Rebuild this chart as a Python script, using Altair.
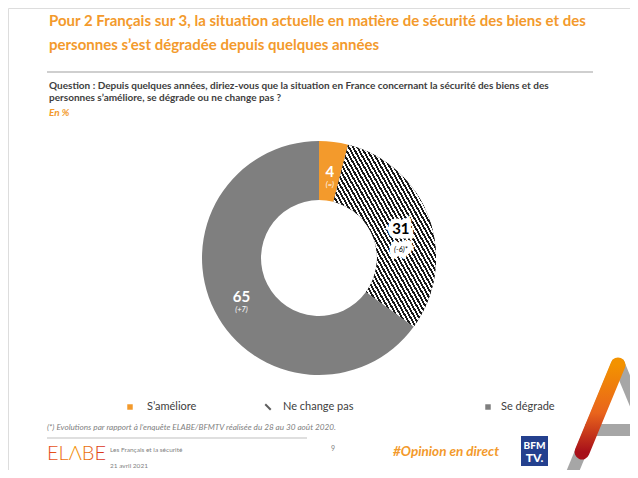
import altair as alt
import pandas as pd

# ---- data ----
cats = ["S’améliore", "Ne change pas", "Se dégrade"]
values = [4, 31, 65]
labels = ["4", "31", "65"]
changes = ["(=)", "(-6)*", "(+7)"]
orders = [0, 1, 2]

title_lines = [
    "Pour 2 Français sur 3, la situation actuelle en matière de sécurité des biens et des",
    "personnes s’est dégradée depuis quelques années",
]
question_lines = [
    "Question : Depuis quelques années, diriez-vous que la situation en France concernant la sécurité des biens et des",
    "personnes s’améliore, se dégrade ou ne change pas ?",
]
unit_text = "En %"
footnote = "(*) Evolutions par rapport à l’enquête ELABE/BFMTV réalisée du 28 au 30 août 2020."
footer_left = ["Les Français et la sécurité", "21 avril 2021"]
page_no = "9"
hashtag = "#Opinion en direct"

ORANGE = "#F39A2C"
GRAY = "#7F7F7F"
DARK = "#404040"
FONT = "Lato"

df = pd.DataFrame({"cat": cats, "value": values, "order": orders,
                   "label": labels, "change": changes})
one = pd.DataFrame({"k": [0]})

color_scale = alt.Scale(domain=cats, range=[ORANGE, "#1a1a1a", GRAY])

# hatch pattern as a striped gradient
N = 48
stops = []
for i in range(N):
    a, b, c = i / N, (i + 0.5) / N, (i + 1) / N
    stops += [{"offset": a, "color": "#1a1a1a"}, {"offset": b, "color": "#1a1a1a"},
              {"offset": b, "color": "#ffffff"}, {"offset": c, "color": "#ffffff"}]
hatch = {"gradient": "linear", "x1": 0, "y1": 1, "x2": 1, "y2": 0, "stops": stops}

CX, CY = 311, 250
IS_NC = "datum.cat == 'Ne change pas'"

base = alt.Chart(df).encode(
    theta=alt.Theta("value:Q", stack=True),
    order=alt.Order("order:Q"),
    x=alt.value(CX), y=alt.value(CY),
)

arcs = base.mark_arc(innerRadius=58, outerRadius=117).encode(
    color=alt.Color("cat:N", scale=color_scale, legend=None)
)
hatch_layer = base.mark_arc(innerRadius=58, outerRadius=117, fill=hatch).encode(
    opacity=alt.condition(IS_NC, alt.value(1), alt.value(0))
)

halo_big = base.mark_text(radius=87, fontSize=15, fontWeight="bold", font=FONT,
                          fill="white", stroke="white", strokeWidth=9,
                          strokeJoin="miter").encode(
    text="label:N", opacity=alt.condition(IS_NC, alt.value(1), alt.value(0)))
halo_sub = base.mark_text(radius=87, dy=21, fontSize=8, fontStyle="italic", font=FONT,
                          fill="white", stroke="white", strokeWidth=9,
                          strokeJoin="miter").encode(
    text="change:N", opacity=alt.condition(IS_NC, alt.value(1), alt.value(0)))

big = base.mark_text(radius=87, fontSize=15, fontWeight="bold", font=FONT).encode(
    text="label:N",
    fill=alt.condition(IS_NC, alt.value("black"), alt.value("white")),
)
sub_white = base.mark_text(radius=87, dy=13, fontSize=7.5, fontStyle="italic",
                           font=FONT, fill="white").encode(
    text="change:N", opacity=alt.condition(IS_NC, alt.value(0), alt.value(1)))
sub_black = base.mark_text(radius=87, dy=21, fontSize=7.5, fontStyle="italic",
                           font=FONT, fill="black").encode(
    text="change:N", opacity=alt.condition(IS_NC, alt.value(1), alt.value(0)))


def txt(s, x, y, size, color, weight="normal", style="normal", align="left", font=FONT):
    return alt.Chart(one).mark_text(
        align=align, baseline="middle", fontSize=size, fontWeight=weight,
        fontStyle=style, font=font, color=color
    ).encode(text=alt.value(s), x=alt.value(x), y=alt.value(y))


def rule(x, y, x2, y2, color, width, cap="butt"):
    return alt.Chart(one).mark_rule(stroke=color, strokeWidth=width, strokeCap=cap).encode(
        x=alt.value(x), y=alt.value(y), x2=alt.value(x2), y2=alt.value(y2))


# legend
leg_x = [122, 260, 480]
leg_dx = [17, 15, 13]
leg_layers = []
for i, c in enumerate(cats):
    lb = alt.Chart(df).transform_filter(alt.datum.cat == c).encode(
        x=alt.value(leg_x[i]), y=alt.value(399))
    if c == "Ne change pas":
        sym = lb.mark_point(shape="M-1,-1L1,1", size=30, filled=False,
                            strokeWidth=2, color="#1a1a1a")
    else:
        sym = lb.mark_point(shape="square", size=30, filled=True, opacity=1).encode(
            color=alt.Color("cat:N", scale=color_scale, legend=None))
    lab = lb.mark_text(align="left", baseline="middle", dx=leg_dx[i], fontSize=11,
                       font=FONT, color=DARK).encode(text="cat:N")
    leg_layers += [sym, lab]

band_grad = {"gradient": "linear", "x1": 0, "y1": 0, "x2": 0, "y2": 1,
             "stops": [{"offset": 0, "color": "#F39200"},
                       {"offset": 0.55, "color": "#E9641C"},
                       {"offset": 1, "color": "#A8101A"}]}
logo_grad = {"gradient": "linear", "x1": 0, "y1": 0, "x2": 1, "y2": 0,
             "stops": [{"offset": 0, "color": "#E2401E"},
                       {"offset": 0.5, "color": "#F39200"},
                       {"offset": 1, "color": "#D7261E"}]}

# decorations
text_layers = [
    txt(title_lines[0], 41, 13, 15, ORANGE, weight="bold"),
    txt(title_lines[1], 41, 37, 15, ORANGE, weight="bold"),
    rule(39, 64, 585, 64, "#BFBFBF", 1.5),
    txt(question_lines[0], 41, 78, 10, DARK, weight="bold"),
    txt(question_lines[1], 41, 90, 10, DARK, weight="bold"),
    txt(unit_text, 41, 105, 10, ORANGE, weight="bold", style="italic"),
    txt(footnote, 39, 420, 8.2, GRAY, style="italic"),
    rule(39, 430, 299, 430, "#BFBFBF", 1),
    alt.Chart(one).mark_text(align="left", baseline="middle", fontSize=20,
                             fontWeight=300, font=FONT, fill=logo_grad).encode(
        text=alt.value("ELΛBE"), x=alt.value(39), y=alt.value(446)),
    txt(footer_left[0], 102, 442, 6.5, GRAY),
    txt(footer_left[1], 102, 458, 6.5, GRAY),
    txt(page_no, 323, 441, 7, GRAY),
    txt(hashtag, 385, 444, 13.5, ORANGE, weight="bold", style="italic"),
    alt.Chart(one).mark_rect(color="#24408E").encode(
        x=alt.value(513), x2=alt.value(540), y=alt.value(428), y2=alt.value(458)),
    txt("BFM", 526.5, 438, 10, "white", weight=900, align="center"),
    txt("TV.", 526.5, 450, 12, "white", weight=900, align="center"),
    rule(562, 470, 610, 354, "#A6A6A6", 12),
    rule(610, 354, 640, 426, "#A6A6A6", 12),
    rule(577, 422, 630, 422, "#A6A6A6", 12),
    rule(610, 357, 574, 444, band_grad, 15, cap="round"),
]

chart = alt.layer(
    arcs, hatch_layer, halo_big, halo_sub, big, sub_white, sub_black,
    *leg_layers, *text_layers
).properties(
    width=622, height=462, padding=0,
    autosize=alt.AutoSizeParams(type="none"),
).configure_view(stroke=None).configure(background="white")

chart.save("out.html", embed_options={"renderer": "svg", "actions": False})
